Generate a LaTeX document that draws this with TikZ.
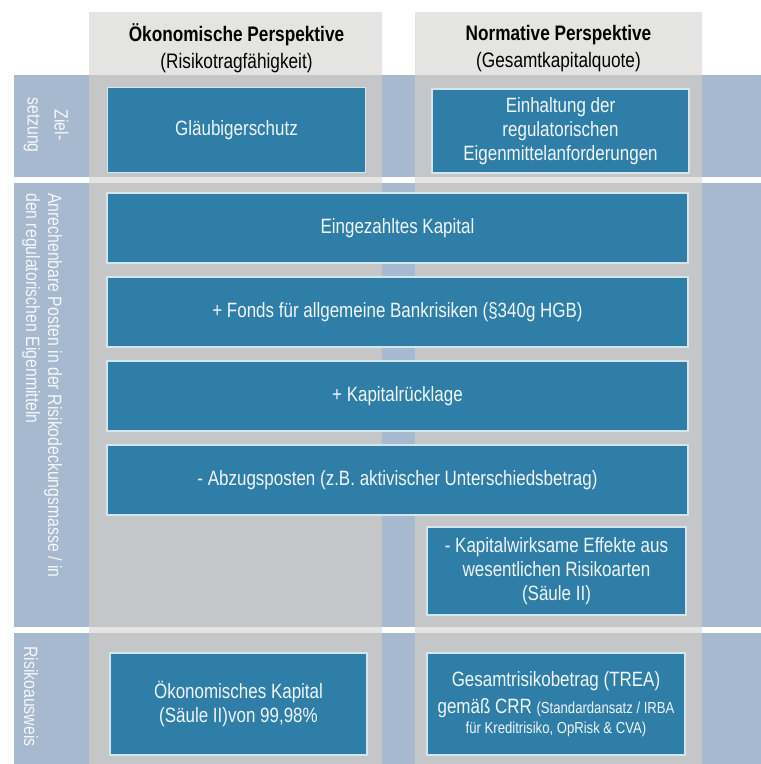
\documentclass[tikz,border=0pt]{standalone}
\usepackage{fontspec}
\setmainfont{Liberation Sans}[FakeStretch=0.82]
\usepackage{xcolor}
\usetikzlibrary{positioning}
\definecolor{boxblue}{HTML}{2F7EA7}
\definecolor{bandblue}{HTML}{A7B9CF}
\definecolor{colgrey}{HTML}{C4C6C7}
\definecolor{headgrey}{HTML}{E4E4E2}

\begin{document}
\begin{tikzpicture}[x=1pt,y=-1pt,
	posten/.style={fill=boxblue, draw=white!80!boxblue, line width=1.2pt, text=white!93!boxblue,
		align=center, inner sep=0pt, font=\fontsize{20.7}{24}\selectfont},
	kopf/.style={align=center, inner sep=0pt, font=\fontsize{21}{27}\selectfont},
	zeile/.style={rotate=-90, inner sep=0pt, text=white!88!bandblue, font=\fontsize{19.3}{22}\selectfont}]
			\useasboundingbox (0,0) rectangle (761,764);
			\fill[white] (0,0) rectangle (761,764);
			\fill[headgrey] (89,12) rectangle (382,764);
			\fill[headgrey] (415,12) rectangle (702,764);
			\foreach \ya/\yb in {75/177, 183/627, 633/764} {
				\fill[bandblue] (14,\ya) rectangle (761,\yb);
				\fill[colgrey] (89,\ya) rectangle (382,\yb);
				\fill[colgrey] (415,\ya) rectangle (702,\yb);
			}
			\node[kopf] (oekonomisch) at (236.5,48.5) {\textbf{Ökonomische Perspektive}\\(Risikotragfähigkeit)};
			\node[kopf] (normativ) at (558.5,48.5) {\textbf{Normative Perspektive}\\(Gesamtkapitalquote)};
			\node[zeile, align=center, font=\fontsize{19.3}{27}\selectfont] (ziel) at (46,125) {Ziel-\\setzung};
			\node[zeile, align=left, anchor=west] (anrechenbar) at (42,193) {Anrechenbare Posten in der Risikodeckungsmasse / in\\den regulatorischen Eigenmitteln};
			\node[zeile, anchor=west] (ausweis) at (31,646) {Risikoausweis};
			\node[posten, minimum width=258pt, minimum height=85pt] (glaeubiger) at (236.5,130) {Gläubigerschutz};
			\node[posten, minimum width=257pt, minimum height=84pt] (einhaltung) at (560.5,131) {Einhaltung der\\regulatorischen\\Eigenmittelanforderungen};
			\node[posten, minimum width=581pt, minimum height=70pt] (eingezahlt) at (397.5,228) {Eingezahltes Kapital};
			\node[posten, minimum width=581pt, minimum height=70pt] (fonds) at (397.5,312) {+ Fonds für allgemeine Bankrisiken (§340g HGB)};
			\node[posten, minimum width=581pt, minimum height=70pt] (ruecklage) at (397.5,396) {+ Kapitalrücklage};
			\node[posten, minimum width=581pt, minimum height=70pt] (abzug) at (397.5,480) {- Abzugsposten (z.B. aktivischer Unterschiedsbetrag)};
			\node[posten, minimum width=259pt, minimum height=88pt] (effekte) at (556.5,571) {- Kapitalwirksame Effekte aus\\wesentlichen Risikoarten\\(Säule II)};
			\node[posten, minimum width=257pt, minimum height=102pt] (oekokapital) at (238.5,704) {Ökonomisches Kapital\\(Säule II)von 99,98\%};
			\node[posten, minimum width=258pt, minimum height=102pt] (trea) at (556,704) {Gesamtrisikobetrag (TREA)\\[3pt]gemäß CRR {\fontsize{16}{20}\selectfont(Standardansatz / IRBA}\\[-4pt]{\fontsize{16}{20}\selectfont für Kreditrisiko, OpRisk \& CVA)}};
		\end{tikzpicture}
\end{document}
